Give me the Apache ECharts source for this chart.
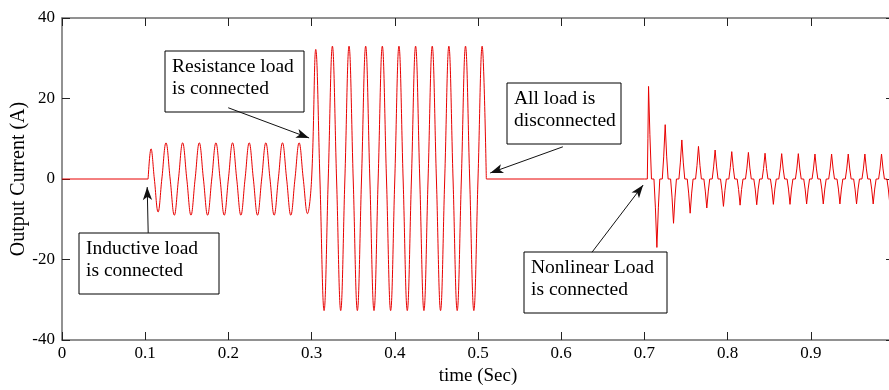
<!DOCTYPE html>
<html>
<head>
<meta charset="utf-8">
<title>Output Current</title>
<script src="https://cdn.jsdelivr.net/npm/echarts@6/dist/echarts.min.js"></script>
<style>
html, body { margin: 0; padding: 0; background: #fff; }
#chart { width: 889px; height: 390px; }
</style>
</head>
<body>
<div id="chart"></div>
<script>
// [time (s), current (A)] pairs
const idleStart = [[0, 0], [0.1035, 0]];

const inductiveLoad = [
  [0.1035, 0], [0.107, 7.5], [0.111, 0], [0.1155, -8.2], [0.12, 0],
  [0.125, 9.0], [0.13, 0], [0.135, -9.0], [0.14, 0],
  [0.145, 9.0], [0.15, 0], [0.155, -9.0], [0.16, 0],
  [0.165, 9.0], [0.17, 0], [0.175, -9.0], [0.18, 0],
  [0.185, 9.0], [0.19, 0], [0.195, -9.0], [0.2, 0],
  [0.205, 9.0], [0.21, 0], [0.215, -9.0], [0.22, 0],
  [0.225, 9.0], [0.23, 0], [0.235, -9.0], [0.24, 0],
  [0.245, 9.0], [0.25, 0], [0.255, -9.0], [0.26, 0],
  [0.265, 9.0], [0.27, 0], [0.275, -9.0], [0.28, 0],
  [0.285, 9.0], [0.29, 0], [0.295, -8.6], [0.3, 0]
];

const resistanceLoad = [
  [0.3, 0], [0.305, 32.2], [0.31, 0], [0.315, -32.7], [0.32, 0],
  [0.325, 33.0], [0.33, 0], [0.335, -32.7], [0.34, 0],
  [0.345, 33.0], [0.35, 0], [0.355, -32.7], [0.36, 0],
  [0.365, 33.0], [0.37, 0], [0.375, -32.7], [0.38, 0],
  [0.385, 33.0], [0.39, 0], [0.395, -32.7], [0.4, 0],
  [0.405, 33.0], [0.41, 0], [0.415, -32.7], [0.42, 0],
  [0.425, 33.0], [0.43, 0], [0.435, -32.7], [0.44, 0],
  [0.445, 33.0], [0.45, 0], [0.455, -32.7], [0.46, 0],
  [0.465, 33.0], [0.47, 0], [0.475, -32.7], [0.48, 0],
  [0.485, 33.0], [0.49, 0], [0.495, -32.7], [0.5, 0],
  [0.505, 33.0], [0.51, 0]
];

const idleMiddle = [[0.51, 0], [0.7, 0]];

const nonlinearLoad = [
  [0.7, 0],
  [0.7035, 0], [0.7042, 10], [0.705, 23], [0.7066, 11], [0.7085, 0],
  [0.7115, 0], [0.7132, -7], [0.715, -17], [0.7168, -7], [0.7185, 0],
  [0.7215, 0], [0.7232, 5.5], [0.725, 13.5], [0.7268, 5.5], [0.7285, 0],
  [0.7315, 0], [0.7332, -4.5], [0.735, -11], [0.7368, -4.5], [0.7385, 0],
  [0.7415, 0], [0.7432, 4], [0.745, 9.7], [0.7468, 4], [0.7485, 0],
  [0.7515, 0], [0.7532, -3.5], [0.755, -8.5], [0.7568, -3.5], [0.7585, 0],
  [0.7615, 0], [0.7632, 3.3], [0.765, 8.1], [0.7668, 3.3], [0.7685, 0],
  [0.7715, 0], [0.7732, -3], [0.775, -7.2], [0.7768, -3], [0.7785, 0],
  [0.7815, 0], [0.7832, 3], [0.785, 7.2], [0.7868, 3], [0.7885, 0],
  [0.7915, 0], [0.7932, -2.8], [0.795, -6.8], [0.7968, -2.8], [0.7985, 0],
  [0.8015, 0], [0.8032, 2.8], [0.805, 6.8], [0.8068, 2.8], [0.8085, 0],
  [0.8115, 0], [0.8132, -2.6], [0.815, -6.5], [0.8168, -2.6], [0.8185, 0],
  [0.8215, 0], [0.8232, 2.7], [0.825, 6.6], [0.8268, 2.7], [0.8285, 0],
  [0.8315, 0], [0.8332, -2.5], [0.835, -6.4], [0.8368, -2.5], [0.8385, 0],
  [0.8415, 0], [0.8432, 2.6], [0.845, 6.4], [0.8468, 2.6], [0.8485, 0],
  [0.8515, 0], [0.8532, -2.5], [0.855, -6.3], [0.8568, -2.5], [0.8585, 0],
  [0.8615, 0], [0.8632, 2.5], [0.865, 6.3], [0.8668, 2.5], [0.8685, 0],
  [0.8715, 0], [0.8732, -2.5], [0.875, -6.3], [0.8768, -2.5], [0.8785, 0],
  [0.8815, 0], [0.8832, 2.5], [0.885, 6.3], [0.8868, 2.5], [0.8885, 0],
  [0.8915, 0], [0.8932, -2.5], [0.895, -6.2], [0.8968, -2.5], [0.8985, 0],
  [0.9015, 0], [0.9032, 2.5], [0.905, 6.2], [0.9068, 2.5], [0.9085, 0],
  [0.9115, 0], [0.9132, -2.5], [0.915, -6.2], [0.9168, -2.5], [0.9185, 0],
  [0.9215, 0], [0.9232, 2.5], [0.925, 6.2], [0.9268, 2.5], [0.9285, 0],
  [0.9315, 0], [0.9332, -2.5], [0.935, -6.2], [0.9368, -2.5], [0.9385, 0],
  [0.9415, 0], [0.9432, 2.5], [0.945, 6.2], [0.9468, 2.5], [0.9485, 0],
  [0.9515, 0], [0.9532, -2.5], [0.955, -6.2], [0.9568, -2.5], [0.9585, 0],
  [0.9615, 0], [0.9632, 2.5], [0.965, 6.2], [0.9668, 2.5], [0.9685, 0],
  [0.9715, 0], [0.9732, -2.5], [0.975, -6.2], [0.9768, -2.5], [0.9785, 0],
  [0.9815, 0], [0.9832, 2.5], [0.985, 6.2], [0.9868, 2.5], [0.9885, 0],
  [0.9915, 0], [0.9932, -2.5], [0.995, -6.2], [0.9968, -2.5], [0.9985, 0],
  [1.0, 0]
];

// axis ticks
const xTicks = [0, 0.1, 0.2, 0.3, 0.4, 0.5, 0.6, 0.7, 0.8, 0.9, 1.0];
const yTicks = [-40, -20, 0, 20, 40];

// arrows: [from, to] in data coords
const arrows = [
  [[0.1998, 17.7], [0.297, 10.2]],
  [[0.1036, -13.4], [0.1024, -2.0]],
  [[0.602, 8.0], [0.5147, 1.5]],
  [[0.637, -18.2], [0.6985, -1.5]]
];

const serif = '"Liberation Serif", "Times New Roman", serif';
const red = '#e80000';

let myChart = echarts.init(document.getElementById('chart'), null, { renderer: 'canvas' });

function axisX(pos, showLabel) {
  return {
    type: 'value',
    position: pos,
    min: xTicks[0],
    max: xTicks[xTicks.length - 1],
    interval: xTicks[1] - xTicks[0],
    axisLine: { show: true, onZero: false, lineStyle: { color: '#6e6e6e', width: 1.5 } },
    axisTick: { show: true, inside: true, length: 8, lineStyle: { color: '#222', width: 1 } },
    axisLabel: {
      show: showLabel,
      showMaxLabel: false,
      color: '#000',
      fontFamily: serif,
      fontSize: 17,
      margin: 5
    },
    splitLine: { show: false }
  };
}

function axisY(pos, showLabel) {
  return {
    type: 'value',
    position: pos,
    min: yTicks[0],
    max: yTicks[yTicks.length - 1],
    interval: yTicks[1] - yTicks[0],
    axisLine: { show: true, onZero: false, lineStyle: { color: '#6e6e6e', width: 1.5 } },
    axisTick: { show: true, inside: true, length: 8, lineStyle: { color: '#222', width: 1 } },
    axisLabel: {
      show: showLabel,
      color: '#000',
      fontFamily: serif,
      fontSize: 17,
      margin: 7
    },
    splitLine: { show: false }
  };
}

let bottomX = axisX('bottom', true);
bottomX.name = 'time (Sec)';
bottomX.nameLocation = 'middle';
bottomX.nameGap = 27;
bottomX.nameMoveOverlap = false;
bottomX.nameTextStyle = { color: '#000', fontFamily: serif, fontSize: 19 };

let leftY = axisY('left', true);
leftY.name = 'Output Current (A)';
leftY.nameLocation = 'middle';
leftY.nameGap = 33;
leftY.nameMoveOverlap = false;
leftY.nameTextStyle = { color: '#000', fontFamily: serif, fontSize: 20 };

function lineSeries(name, data, smooth, extra) {
  return Object.assign({
    name: name,
    type: 'line',
    data: data,
    smooth: smooth,
    symbol: 'none',
    silent: true,
    animation: false,
    lineStyle: { color: red, width: 1 }
  }, extra || {});
}

// text boxes (pixel layout)
function note(x, y, w, h, text) {
  return {
    type: 'group',
    silent: true,
    children: [
      { type: 'rect', shape: { x: x, y: y, width: w, height: h },
        style: { fill: '#fff', stroke: '#000', lineWidth: 1 } },
      { type: 'text', x: x + 7, y: y + 5,
        style: { text: text, font: '19.5px ' + serif, fill: '#000', lineHeight: 22, verticalAlign: 'top' } }
    ]
  };
}

let option = {
  animation: false,
  backgroundColor: '#fff',
  grid: { left: 62, right: -5, top: 18, bottom: 50, containLabel: false, outerBoundsMode: 'none' },
  xAxis: [bottomX, axisX('top', false)],
  yAxis: [leftY, axisY('right', false)],
  series: [
    lineSeries('idle1', idleStart, false),
    lineSeries('linear', inductiveLoad.concat(resistanceLoad.slice(1)), 0.4),
    lineSeries('idle2', idleMiddle.concat(nonlinearLoad.slice(1)), false, {
      markLine: {
        silent: true,
        animation: false,
        symbol: ['none', 'arrow'],
        symbolSize: [7, 13],
        label: { show: false },
        lineStyle: { color: '#111', width: 1, type: 'solid' },
        data: arrows.map(a => [{ coord: a[0] }, { coord: a[1] }])
      }
    })
  ],
  graphic: [
    note(165, 51, 139, 61, 'Resistance load\nis connected'),
    note(79, 233, 140, 61, 'Inductive load\nis connected'),
    note(507, 83, 114, 61, 'All load is\ndisconnected'),
    note(524, 252, 143, 61, 'Nonlinear Load\nis connected')
  ]
};

myChart.setOption(option);
window.addEventListener('resize', () => { myChart.resize(); });
</script>
</body>
</html>
